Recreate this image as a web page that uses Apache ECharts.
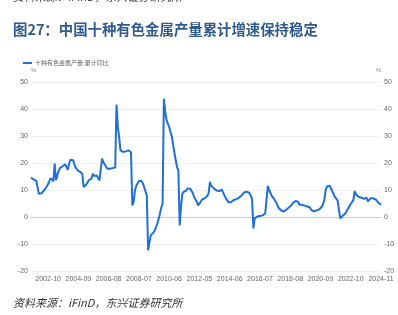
<!DOCTYPE html>
<html><head><meta charset="utf-8">
<script src="https://cdn.jsdelivr.net/npm/echarts@6/dist/echarts.min.js"></script>
<style>html,body{margin:0;padding:0;background:#fff}#c{width:398px;height:315px}</style>
</head><body><div id="c"></div>
<script>
const titleText = '图27：中国十种有色金属产量累计增速保持稳定';
const sourceText = '资料来源：iFinD，东兴证券研究所';
const seriesName = '十种有色金属产量:累计同比';
const yTicks = [-20, -10, 0, 10, 20, 30, 40, 50];
const startMonth = '2001-09';
const endMonth = '2024-11';
const firstNoJanYear = 2013;
const values = [
14.6,14.2,13.9,13.6,13.4,12.9,8.6,8.6,8.8,9.3,9.9,10.4,11.3,12.2,13.4,14.4,14.2,13.2,
19.8,13.6,15.5,17.0,18.1,18.5,18.8,19.1,19.5,18.5,17.5,19.8,21.2,21.4,21.0,19.5,18.3,17.5,
17.0,16.8,16.6,16.0,11.1,11.5,12.0,12.5,13.6,14.0,14.3,16.0,15.2,15.2,15.4,14.4,13.5,13.3,
21.6,20.3,19.5,18.9,17.9,17.9,17.9,18.0,18.1,18.3,18.3,41.6,33.3,29.6,24.7,24.2,24.1,24.2,
24.3,24.6,24.7,24.3,24.0,4.3,5.5,9.9,11.5,12.5,13.3,13.6,13.3,12.5,11.0,9.5,8.0,-12.3,
-9.5,-6.8,-6.5,-5.8,-5.0,-3.8,-2.4,-0.8,1.3,3.5,4.9,43.8,39.0,36.0,35.6,33.3,31.5,29.9,
26.8,23.9,21.0,18.5,17.3,-3.1,3.7,8.5,9.3,9.3,9.8,10.6,10.9,10.5,10.5,8.8,7.4,8.0,
5.6,4.3,4.7,5.6,6.5,6.7,6.9,7.2,7.8,8.8,
13.0,11.5,11.0,10.6,10.2,9.8,9.4,9.6,9.8,10.1,10.2,
8.0,7.0,6.3,5.5,5.1,5.5,5.9,6.3,6.4,6.6,6.8,
7.1,7.4,8.0,8.7,9.1,9.4,9.4,9.4,8.9,8.2,6.8,
-4.2,-0.5,0.0,0.2,0.3,0.4,0.5,0.6,0.9,1.3,2.0,
11.5,10.0,8.9,7.8,7.2,6.5,5.6,4.7,3.5,2.9,2.5,
2.2,2.0,2.3,2.7,3.2,3.5,4.0,4.4,5.2,5.8,5.9,
5.9,5.7,4.5,4.3,4.5,4.4,4.2,4.1,3.9,3.8,3.5,
2.6,2.0,2.1,2.2,2.4,2.6,2.8,3.2,3.8,4.8,6.5,
10.2,11.3,11.9,11.6,11.0,9.5,8.5,7.4,6.8,6.2,6.0,
-0.5,0.1,0.5,0.8,1.4,2.1,3.2,4.0,4.8,5.4,6.3,
9.6,8.5,7.8,7.4,7.2,7.2,7.0,6.7,6.6,7.2,5.8,
6.5,6.9,6.9,6.9,6.9,6.5,5.8,5.3,4.9,4.5
];

// build month categories (January not reported from 2013 on)
const categories = [];
(function(){
  let [y, m] = startMonth.split('-').map(Number);
  const [ey, em] = endMonth.split('-').map(Number);
  while (y < ey || (y === ey && m <= em)) {
    if (!(m === 1 && y >= firstNoJanYear)) categories.push(y + '-' + String(m).padStart(2, '0'));
    m++; if (m > 12) { m = 1; y++; }
  }
})();
const labelStart = categories.indexOf('2002-10');
const labelStep = 23;

const FONT = '"Liberation Sans", "Noto Sans CJK SC", sans-serif';
const chart = echarts.init(document.getElementById('c'), null, {renderer: 'canvas'});
const yAxisBase = (pos) => ({
  type: 'value', position: pos, min: -20, max: 50, interval: 10,
  name: '%', nameLocation: 'end', nameGap: 9,
  nameTextStyle: {color: '#888', fontSize: 6, fontFamily: FONT, align: pos === 'left' ? 'left' : 'right'},
  axisLine: {show: false}, axisTick: {show: false},
  axisLabel: {color: '#666', fontSize: 7, margin: 3, fontFamily: FONT},
  splitLine: {show: pos === 'left', lineStyle: {color: '#EFEFEF', width: 1}}
});
chart.setOption({
  animation: false,
  graphic: [
    {type: 'text', left: 13, top: -9, style: {text: sourceText, fill: '#333', fontSize: 11, fontStyle: 'italic', fontFamily: '"Noto Sans CJK SC", sans-serif'}},
    {type: 'text', left: 13, top: 22, style: {text: titleText, fill: '#2E5A8F', fontSize: 14.4, fontWeight: 'bold', fontFamily: '"Noto Sans CJK SC", sans-serif'}},
    {type: 'text', left: 13, top: 297, style: {text: sourceText, fill: '#333', fontSize: 11, fontStyle: 'italic', fontFamily: '"Noto Sans CJK SC", sans-serif'}}
  ],
  legend: {
    left: 18, top: 55, itemWidth: 9, itemHeight: 2, itemGap: 4, icon: 'rect',
    textStyle: {color: '#666', fontSize: 6, fontFamily: '"Noto Sans CJK SC", sans-serif', padding: [0,0,0,-2]},
    data: [seriesName]
  },
  grid: {left: 31, right: 17, top: 82, bottom: 44, containLabel: false},
  xAxis: {
    type: 'category', data: categories, boundaryGap: false,
    axisLine: {show: true, lineStyle: {color: '#C5CCE0', width: 1}},
    axisTick: {show: false},
    axisLabel: {
      color: '#666', fontSize: 7, margin: 5, fontFamily: FONT,
      interval: (i) => i >= labelStart && (i - labelStart) % labelStep === 0
    },
    splitLine: {show: false}
  },
  yAxis: [yAxisBase('left'), yAxisBase('right')],
  series: [{
    name: seriesName, type: 'line', data: values, yAxisIndex: 0,
    showSymbol: false, symbol: 'none',
    lineStyle: {color: '#1F6FD8', width: 2}, itemStyle: {color: '#1F6FD8'}
  }]
});
</script></body></html>
